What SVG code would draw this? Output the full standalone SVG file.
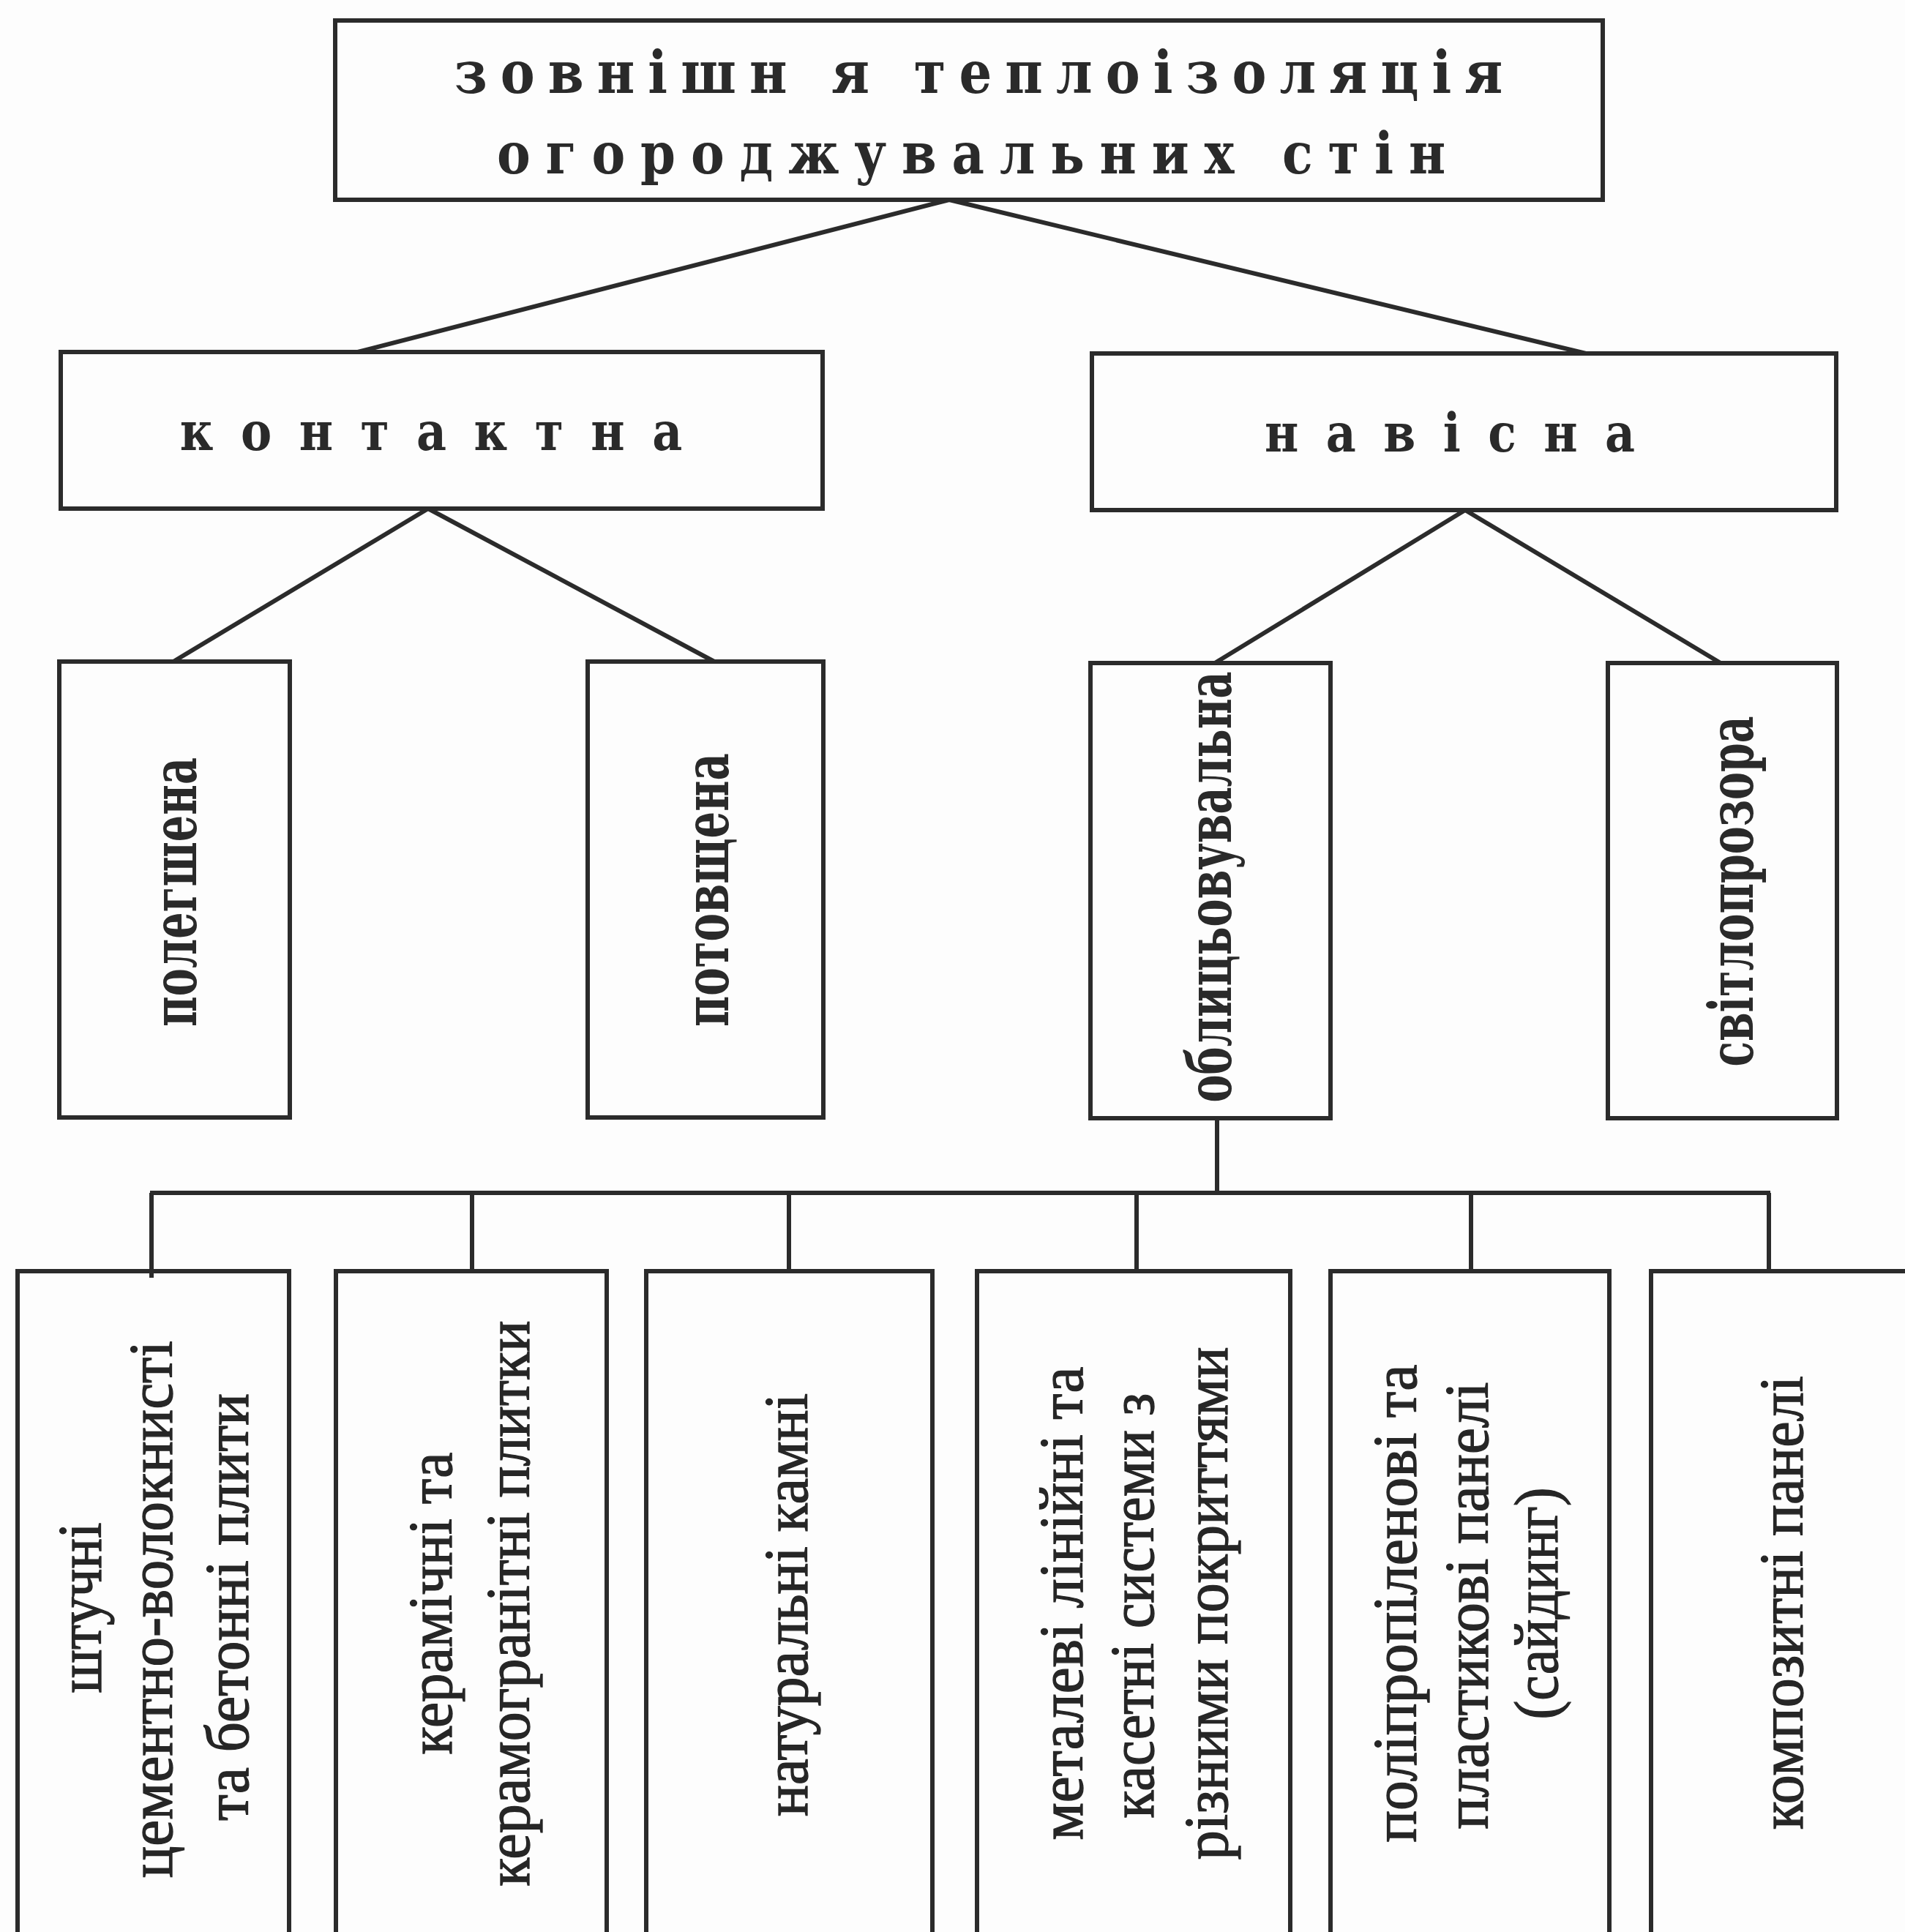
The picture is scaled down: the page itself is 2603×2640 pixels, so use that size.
<svg xmlns="http://www.w3.org/2000/svg" width="2603" height="2640" viewBox="0 0 2603 2640">
<style>
.box{fill:none;stroke:#2b2b2b;stroke-width:6}
.con line{stroke:#2b2b2b;stroke-width:6;fill:none}
.slab{font-family:"DejaVu Serif","Liberation Serif",serif;font-weight:bold;fill:#2a2a2a}
.ser{font-family:"Liberation Serif","Times New Roman",serif;fill:#262626;font-size:84px;stroke:#262626;stroke-width:1.3}
</style>
<rect width="2603" height="2640" fill="#fdfdfd"/>
<g class="con" id="connectors">
<line x1="1297" y1="273" x2="489" y2="481"/>
<line x1="1297" y1="273" x2="2167" y2="483"/>
<line x1="585" y1="695" x2="237" y2="904"/>
<line x1="585" y1="695" x2="976" y2="904"/>
<line x1="2002" y1="697" x2="1660" y2="906"/>
<line x1="2002" y1="697" x2="2351" y2="906"/>
<line x1="1663" y1="1528" x2="1663" y2="1630"/>
<line x1="205" y1="1630" x2="2419" y2="1630"/>
<line x1="207" y1="1630" x2="207" y2="1746"/>
<line x1="645" y1="1630" x2="645" y2="1737"/>
<line x1="1078" y1="1630" x2="1078" y2="1737"/>
<line x1="1553" y1="1630" x2="1553" y2="1737"/>
<line x1="2010" y1="1630" x2="2010" y2="1737"/>
<line x1="2417" y1="1630" x2="2417" y2="1737"/>
</g>
<g id="n-top">
<rect class="box" x="458" y="28" width="1732" height="245"/>
<text class="slab" font-size="80" text-anchor="middle" transform="translate(1337,127) scale(0.88,1)" textLength="1628" lengthAdjust="spacing">зовнішн я теплоізоляція</text>
<text class="slab" font-size="78" text-anchor="middle" transform="translate(1327,237) scale(0.88,1)" textLength="1473" lengthAdjust="spacing">огороджувальних стін</text>
</g>
<g id="n-kontaktna">
<rect class="box" x="83" y="481" width="1041" height="214"/>
<text class="slab" font-size="72" text-anchor="middle" transform="translate(589,615) scale(0.88,1)" textLength="780" lengthAdjust="spacing">контактна</text>
</g>
<g id="n-navisna">
<rect class="box" x="1492" y="483" width="1017" height="214"/>
<text class="slab" font-size="72" text-anchor="middle" transform="translate(1981,617) scale(0.88,1)" textLength="575" lengthAdjust="spacing">навісна</text>
</g>
<g id="n-poleghena">
<rect class="box" x="81" y="904" width="315" height="623"/>
<text class="slab" font-size="84" text-anchor="middle" transform="translate(268,1219) rotate(-90)" textLength="368" lengthAdjust="spacingAndGlyphs">полегшена</text>
</g>
<g id="n-potovshchena">
<rect class="box" x="803" y="904" width="322" height="623"/>
<text class="slab" font-size="84" text-anchor="middle" transform="translate(995,1216) rotate(-90)" textLength="374" lengthAdjust="spacingAndGlyphs">потовщена</text>
</g>
<g id="n-oblytsiuvalna">
<rect class="box" x="1490" y="906" width="328" height="622"/>
<text class="slab" font-size="84" text-anchor="middle" transform="translate(1682,1212) rotate(-90)" textLength="589" lengthAdjust="spacingAndGlyphs">облицьовувальна</text>
</g>
<g id="n-svitloprozora">
<rect class="box" x="2197" y="906" width="313" height="622"/>
<text class="slab" font-size="84" text-anchor="middle" transform="translate(2395,1218) rotate(-90)" textLength="479" lengthAdjust="spacingAndGlyphs">світлопрозора</text>
</g>
<g id="n-b1">
<rect class="box" x="24" y="1737" width="371" height="960"/>
<text class="ser" text-anchor="middle" transform="translate(138,2197) rotate(-90)" textLength="233" lengthAdjust="spacingAndGlyphs">штучні</text>
<text class="ser" text-anchor="middle" transform="translate(235,2199) rotate(-90)" textLength="734" lengthAdjust="spacingAndGlyphs">цементно-волокнисті</text>
<text class="ser" text-anchor="middle" transform="translate(339,2196) rotate(-90)" textLength="584" lengthAdjust="spacingAndGlyphs">та бетонні плити</text>
</g>
<g id="n-b2">
<rect class="box" x="459" y="1737" width="370" height="960"/>
<text class="ser" text-anchor="middle" transform="translate(617,2191) rotate(-90)" textLength="413" lengthAdjust="spacingAndGlyphs">керамічні та</text>
<text class="ser" text-anchor="middle" transform="translate(723,2191) rotate(-90)" textLength="773" lengthAdjust="spacingAndGlyphs">керамогранітні плитки</text>
</g>
<g id="n-b3">
<rect class="box" x="883" y="1737" width="391" height="960"/>
<text class="ser" text-anchor="middle" transform="translate(1103,2193) rotate(-90)" textLength="578" lengthAdjust="spacingAndGlyphs">натуральні камні</text>
</g>
<g id="n-b4">
<rect class="box" x="1335" y="1737" width="428" height="960"/>
<text class="ser" text-anchor="middle" transform="translate(1479,2191) rotate(-90)" textLength="647" lengthAdjust="spacingAndGlyphs">металеві лінійні та</text>
<text class="ser" text-anchor="middle" transform="translate(1576,2194) rotate(-90)" textLength="581" lengthAdjust="spacingAndGlyphs">касетні системи з</text>
<text class="ser" text-anchor="middle" transform="translate(1677,2191) rotate(-90)" textLength="701" lengthAdjust="spacingAndGlyphs">різними покриттями</text>
</g>
<g id="n-b5">
<rect class="box" x="1818" y="1737" width="381" height="960"/>
<text class="ser" text-anchor="middle" transform="translate(1935,2191) rotate(-90)" textLength="653" lengthAdjust="spacingAndGlyphs">поліпропіленові та</text>
<text class="ser" text-anchor="middle" transform="translate(2033,2194) rotate(-90)" textLength="611" lengthAdjust="spacingAndGlyphs">пластикові панелі</text>
<text class="ser" text-anchor="middle" transform="translate(2128,2191) rotate(-90)" textLength="317" lengthAdjust="spacingAndGlyphs">(сайдинг)</text>
</g>
<g id="n-b6">
<rect class="box" x="2256" y="1737" width="420" height="960"/>
<text class="ser" text-anchor="middle" transform="translate(2463,2190) rotate(-90)" textLength="620" lengthAdjust="spacingAndGlyphs">композитні панелі</text>
</g>
</svg>
